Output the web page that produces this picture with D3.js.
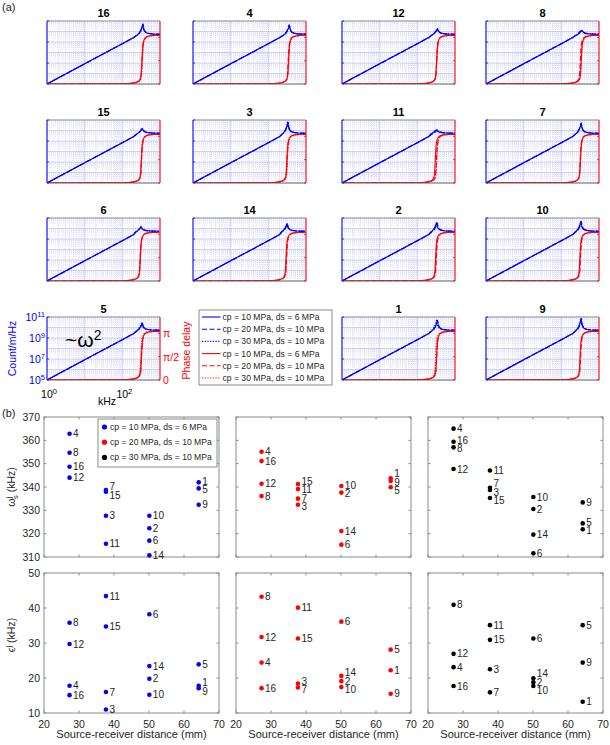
<!DOCTYPE html>
<html><head><meta charset="utf-8">
<script src="https://cdn.jsdelivr.net/npm/d3@7"></script>
<style>body{margin:0;background:#fff} svg{display:block;font-family:"Liberation Sans",Arial,Helvetica,sans-serif}</style>
</head><body><svg id="c" width="610" height="745"></svg>
<script>
// ---------------- DATA ----------------
const sensorIds   = [1,2,3,4,5,6,7,8,9,10,11,12,14,15,16];
const distanceMM  = [64.2,50.1,37.7,27.3,64.2,50.1,37.7,27.3,64.2,50.1,37.7,27.3,50.1,37.7,27.3];
const omegaS_cp10 = [342.0,322.3,327.7,362.8,339.4,317.0,338.7,354.7,332.4,327.7,315.7,344.0,310.7,338.0,348.7];
const omegaS_cp20 = [343.7,337.6,332.4,355.1,339.9,315.3,335.0,336.1,342.6,340.4,339.1,341.4,321.1,341.3,351.1];
const omegaS_cp30 = [321.9,330.6,338.7,365.0,324.4,311.6,339.7,357.0,333.4,335.7,347.1,347.7,319.6,335.3,359.4];
const eps_cp10    = [17.8,19.8,11.0,17.8,23.9,38.2,16.0,35.8,17.1,15.2,43.4,29.7,23.4,34.7,15.1];
const eps_cp20    = [22.2,19.1,18.4,24.4,28.1,36.1,17.3,43.2,15.5,17.4,40.1,31.7,20.6,31.3,17.1];
const eps_cp30    = [13.2,18.8,22.5,23.1,35.1,31.3,15.9,40.9,24.4,17.7,35.1,26.9,19.9,30.9,17.7];
// peak spectral level (log10 Count/m/Hz) (a)
const peakLog10   = [10.69,10.55,10.8,10.62,10.43,10.15,10.7,10.11,10.84,10.65,10.05,10.27,10.45,10.21,10.7];
const panelGrid   = [[16,4,12,8],[15,3,11,7],[6,14,2,10],[5,null,1,9]];
const modelNames  = ["cp = 10 MPa, ds = 6 MPa","cp = 20 MPa, ds = 10 MPa","cp = 30 MPa, ds = 10 MPa"];
// spectrum shape
const lowFreqKHz    = [1,10,100,200];
const lowAmpLog10   = [5.0,6.92,8.84,9.42];
const resRatio      = [0.7,0.8,0.88,0.95,1.0,1.04,1.1,1.2,1.4,1.8,3.0];
const resAmpLog10   = [9.62,9.72,9.82,9.9,9.9,9.9,9.86,9.82,9.79,9.76,9.74];
const resPeakFrac   = [0.03,0.12,0.3,0.62,1,0.5,0.25,0.1,0.03,0,0];
const phaseLowFreqKHz = [1,100];
const phaseLowPi      = [0,0.005];
const phaseRatio      = [0.5,0.7,0.8,0.87,0.91,0.94,0.97,1.0,1.04,1.1,1.2,1.5,2.0,3.0];
const phasePi         = [0.015,0.04,0.07,0.12,0.22,0.42,0.65,0.8,0.9,0.96,1.0,1.03,1.04,1.04];
// ticks
const ampTicks   = [5,7,9,11];          // exponents of 10
const freqTicks  = [0,2];               // exponents of 10
const phaseTickVals = [0,0.5,1];        // multiples of pi
const phaseTickLabels = ["0","π/2","π"];
const distTicks  = [20,30,40,50,60,70];
const omegaTicks = [310,320,330,340,350,360,370];
const epsTicks   = [10,20,30,40,50];

// ---------------- DRAW ----------------
const svg = d3.select("#c");
svg.append("rect").attr("width",610).attr("height",745).attr("fill","#fff");
const BLUE="#0000ff", RED="#ff0000", TXT="#262626";
const dashes = [null,"5,2.5","1.2,1.5"];
const omegaByModel = [omegaS_cp10, omegaS_cp20, omegaS_cp30];
const epsByModel = [eps_cp10, eps_cp20, eps_cp30];
const idx = id => sensorIds.indexOf(id);

function sup(sel, base, s, fs, rise){
  sel.append("tspan").text(base);
  sel.append("tspan").attr("dy", -(rise||fs*0.42)).attr("font-size", fs*0.72).text(s);
}

// ---- part (a)
svg.append("text").attr("x",2).attr("y",11).attr("font-size",11).attr("fill",TXT).text("(a)");
const colX=[47,193,342,486], rowY=[21,120,218,317], PW=113, PH=63;
const xF = d3.scaleLog().domain([1,1000]).range([0,PW]);
const yA = d3.scaleLog().domain([1e5,1e11]).range([PH,0]);
const yP = d3.scaleLinear().domain([0,1.35]).range([PH,0]); // in units of pi
const ampLine = d3.line().x(d=>xF(d[0])).y(d=>yA(Math.pow(10,d[1])));
const phLine = d3.line().x(d=>xF(d[0])).y(d=>yP(d[1])).curve(d3.curveMonotoneX);

function ampPoints(i,m){
  const ws=omegaByModel[m][i], pk=peakLog10[i];
  const pts=lowFreqKHz.map((f,k)=>[f,lowAmpLog10[k]]);
  resRatio.forEach((r,k)=>{const b=resAmpLog10[k]; pts.push([r*ws, b+resPeakFrac[k]*(pk-b)]);});
  return pts;
}
function phasePoints(i,m){
  const ws=omegaByModel[m][i];
  const pts=phaseLowFreqKHz.map((f,k)=>[f,phaseLowPi[k]]);
  phaseRatio.forEach((r,k)=>pts.push([r*ws, phasePi[k]]));
  return pts;
}

const xGridMinor=[], xGridMajor=[];
for(let e=0;e<3;e++){ for(let k=1;k<10;k++){ (k===1?xGridMajor:xGridMinor).push(k*Math.pow(10,e)); } }
xGridMajor.push(1000);
const yGridMinor=[], yGridMajor=[];
for(let e=5;e<11;e++){ for(let k=1;k<10;k++){ (k===1?yGridMajor:yGridMinor).push(k*Math.pow(10,e)); } }
yGridMajor.push(1e11);

panelGrid.forEach((row,r)=>row.forEach((id,c)=>{
  if(id===null) return;
  const i=idx(id);
  const g=svg.append("g").attr("transform",`translate(${colX[c]},${rowY[r]})`);
  const cid="clip"+id;
  g.append("clipPath").attr("id",cid).append("rect").attr("width",PW).attr("height",PH);
  // grid
  const gg=g.append("g");
  gg.selectAll(".vm").data(xGridMinor).join("line").attr("x1",d=>xF(d)).attr("x2",d=>xF(d)).attr("y1",0).attr("y2",PH)
    .attr("stroke","#c4c4f2").attr("stroke-width",0.6).attr("stroke-dasharray","1,1");
  gg.selectAll(".vM").data(xGridMajor).join("line").attr("x1",d=>xF(d)).attr("x2",d=>xF(d)).attr("y1",0).attr("y2",PH)
    .attr("stroke","#b6b6ee").attr("stroke-width",0.6);
  gg.selectAll(".hm").data(yGridMinor).join("line").attr("y1",d=>yA(d)).attr("y2",d=>yA(d)).attr("x1",0).attr("x2",PW)
    .attr("stroke","#d2d2f5").attr("stroke-width",0.5).attr("stroke-dasharray","1,1");
  gg.selectAll(".hM").data(yGridMajor).join("line").attr("y1",d=>yA(d)).attr("y2",d=>yA(d)).attr("x1",0).attr("x2",PW)
    .attr("stroke","#b6b6ee").attr("stroke-width",0.6);
  // curves
  const cg=g.append("g").attr("clip-path",`url(#${cid})`);
  [0,1,2].forEach(m=>{
    cg.append("path").attr("d",ampLine(ampPoints(i,m))).attr("fill","none").attr("stroke",BLUE)
      .attr("stroke-width",1.15).attr("stroke-linejoin","round").attr("stroke-dasharray",dashes[m]);
  });
  [0,1,2].forEach(m=>{
    cg.append("path").attr("d",phLine(phasePoints(i,m))).attr("fill","none").attr("stroke",RED)
      .attr("stroke-width",1.15).attr("stroke-dasharray",dashes[m]);
  });
  // box
  g.append("line").attr("x1",0).attr("x2",PW).attr("y1",0).attr("y2",0).attr("stroke","#9a9a9a").attr("stroke-width",1);
  g.append("line").attr("x1",0).attr("x2",PW).attr("y1",PH).attr("y2",PH).attr("stroke","#555").attr("stroke-width",0.8);
  g.append("line").attr("x1",0).attr("x2",0).attr("y1",0).attr("y2",PH).attr("stroke",BLUE).attr("stroke-width",1);
  g.append("line").attr("x1",PW).attr("x2",PW).attr("y1",0).attr("y2",PH).attr("stroke",RED).attr("stroke-width",1);
  // ticks
  ampTicks.forEach(e=>{g.append("line").attr("x1",0).attr("x2",2).attr("y1",yA(Math.pow(10,e))).attr("y2",yA(Math.pow(10,e))).attr("stroke",BLUE).attr("stroke-width",0.8);});
  phaseTickVals.forEach(v=>{g.append("line").attr("x1",PW-2).attr("x2",PW).attr("y1",yP(v)).attr("y2",yP(v)).attr("stroke",RED).attr("stroke-width",0.8);});
  // title
  g.append("text").attr("x",PW/2).attr("y",-4).attr("text-anchor","middle").attr("font-size",11).attr("font-weight","bold")
    .attr("fill","#000").text(id);
  // axes labels on panel 5
  if(r===3 && c===0){
    ampTicks.forEach(e=>{
      const t=g.append("text").attr("x",-2).attr("y",yA(Math.pow(10,e))+4).attr("text-anchor","end").attr("font-size",10.5).attr("fill",BLUE);
      sup(t,"10",String(e),10.5,4.5);
    });
    phaseTickVals.forEach((v,k)=>{
      g.append("text").attr("x",PW+3).attr("y",yP(v)+4).attr("font-size",10.5).attr("fill",RED).text(phaseTickLabels[k]);
    });
    freqTicks.forEach(e=>{
      const t=g.append("text").attr("x",xF(Math.pow(10,e))+2).attr("y",PH+18).attr("text-anchor","middle").attr("font-size",10.5).attr("fill","#000");
      sup(t,"10",String(e),10.5,4.5);
    });
    g.append("text").attr("x",60).attr("y",PH+25).attr("text-anchor","middle").attr("font-size",10.5).attr("fill","#000").text("kHz");
    g.append("text").attr("transform",`translate(${-31},${PH/2}) rotate(-90)`).attr("text-anchor","middle")
      .attr("font-size",10.5).attr("fill",BLUE).text("Count/m/Hz");
    g.append("text").attr("transform",`translate(${PW+30},${PH/2+2}) rotate(-90)`).attr("text-anchor","middle")
      .attr("font-size",10.5).attr("fill",RED).text("Phase delay");
    const w=g.append("text").attr("x",18).attr("y",30).attr("font-size",21).attr("fill","#000");
    w.append("tspan").text("~ω");
    w.append("tspan").attr("dy",-7).attr("font-size",14).text("2");
  }
}));

// legend (a)
{
  const lg=svg.append("g").attr("transform","translate(199,310)");
  lg.append("rect").attr("width",133).attr("height",75).attr("fill","#fff").attr("stroke","#8c8c8c").attr("stroke-width",1);
  const entries=[];
  [BLUE,RED].forEach(col=>modelNames.forEach((n,m)=>entries.push({col,n,m})));
  entries.forEach((e,k)=>{
    const y=7+k*12.2;
    lg.append("line").attr("x1",3).attr("x2",21.5).attr("y1",y).attr("y2",y).attr("stroke",e.col).attr("stroke-width",1.1).attr("stroke-dasharray",dashes[e.m]);
    lg.append("text").attr("x",23.5).attr("y",y+3).attr("font-size",8.6).attr("fill",TXT).text(e.n);
  });
}

// ---- part (b)
svg.append("text").attr("x",2).attr("y",417).attr("font-size",11).attr("fill",TXT).text("(b)");
const bX=[44,236,428], bTop=[417,573], bW=175, bH=140;
const xD=d3.scaleLinear().domain([20,70]).range([0,bW]);
const yScales=[d3.scaleLinear().domain([310,370]).range([bH,0]), d3.scaleLinear().domain([10,50]).range([bH,0])];
const yTicksB=[omegaTicks, epsTicks];
const valsB=[omegaByModel, epsByModel];
const colors=[BLUE,RED,"#000"];
const AX="#8c8c8c";

[0,1].forEach(r=>[0,1,2].forEach(m=>{
  const g=svg.append("g").attr("transform",`translate(${bX[m]},${bTop[r]})`);
  const ys=yScales[r];
  g.append("rect").attr("width",bW).attr("height",bH).attr("fill","none").attr("stroke",AX).attr("stroke-width",1);
  distTicks.forEach(v=>{
    g.append("line").attr("x1",xD(v)).attr("x2",xD(v)).attr("y1",bH).attr("y2",bH-2.5).attr("stroke",AX);
    g.append("line").attr("x1",xD(v)).attr("x2",xD(v)).attr("y1",0).attr("y2",2.5).attr("stroke",AX);
    if(r===1) g.append("text").attr("x",xD(v)).attr("y",bH+14.5).attr("text-anchor","middle").attr("font-size",10.5).attr("fill",TXT).text(v);
  });
  yTicksB[r].forEach(v=>{
    g.append("line").attr("x1",0).attr("x2",2.5).attr("y1",ys(v)).attr("y2",ys(v)).attr("stroke",AX);
    g.append("line").attr("x1",bW-2.5).attr("x2",bW).attr("y1",ys(v)).attr("y2",ys(v)).attr("stroke",AX);
    if(m===0) g.append("text").attr("x",-4).attr("y",ys(v)+3.8).attr("text-anchor","end").attr("font-size",10.5).attr("fill",TXT).text(v);
  });
  if(r===1) g.append("text").attr("x",bW/2).attr("y",bH+24.5).attr("text-anchor","middle").attr("font-size",11).attr("fill",TXT).text("Source-receiver distance (mm)");
  // points
  const pts=sensorIds.map((id,i)=>({id, x:xD(distanceMM[i]), y:ys(valsB[r][m][i]), d:distanceMM[i]}));
  pts.forEach(p=>p.ly=p.y);
  const groups=d3.group(pts,p=>p.d);
  groups.forEach(arr=>{
    arr.sort((a,b)=>a.y-b.y);
    for(let it=0;it<80;it++){
      for(let k=0;k<arr.length-1;k++){
        const gap=arr[k+1].ly-arr[k].ly;
        if(gap<8.5){const s=(8.5-gap)/2; arr[k].ly-=s; arr[k+1].ly+=s;}
      }
    }
  });
  g.selectAll("circle").data(pts).join("circle").attr("cx",p=>p.x).attr("cy",p=>p.y).attr("r",2.3).attr("fill",colors[m]);
  g.selectAll("text.lab").data(pts).join("text").attr("class","lab").attr("x",p=>p.x+3.5).attr("y",p=>p.ly+3.6)
    .attr("font-size",10).attr("fill",TXT).text(p=>p.id);
}));

// y labels (b)
{
  const t=svg.append("text").attr("transform","translate(15,487) rotate(-90)").attr("text-anchor","middle").attr("font-size",10.5).attr("fill",TXT);
  t.append("tspan").text("ω");
  t.append("tspan").attr("dy",-4).attr("font-size",7.5).text("j");
  t.append("tspan").attr("dx",-2.2).attr("dy",7).attr("font-size",7.5).text("s");
  t.append("tspan").attr("dy",-3).text(" (kHz)");
  const u=svg.append("text").attr("transform","translate(15,635) rotate(-90)").attr("text-anchor","middle").attr("font-size",10.5).attr("fill",TXT);
  u.append("tspan").text("ϵ");
  u.append("tspan").attr("dy",-4).attr("font-size",7.5).text("j");
  u.append("tspan").attr("dy",4).text(" (kHz)");
}
// legend (b)
{
  const lg=svg.append("g").attr("transform","translate(98,419)");
  lg.append("rect").attr("width",119).attr("height",48).attr("fill","#fff").attr("stroke","#8c8c8c").attr("stroke-width",1);
  modelNames.forEach((n,m)=>{
    const y=8+m*15.2;
    lg.append("circle").attr("cx",6.5).attr("cy",y).attr("r",2.6).attr("fill",colors[m]);
    lg.append("text").attr("x",12).attr("y",y+3).attr("font-size",8.6).attr("fill",TXT).text(n);
  });
}
</script></body></html>
